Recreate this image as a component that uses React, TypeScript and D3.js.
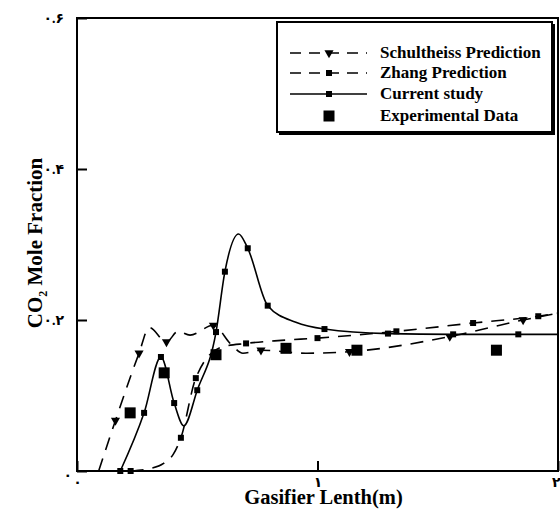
import React, { useEffect, useRef } from "react";
import * as d3 from "d3";

// Schultheiss prediction (dashed, triangles)
const schX = [0.09, 0.16, 0.258, 0.3, 0.372, 0.42, 0.47, 0.567, 0.64, 0.69, 0.765, 0.95, 1.133, 1.55, 1.855, 2.0];
const schY = [0.0, 0.067, 0.156, 0.19, 0.171, 0.185, 0.18, 0.193, 0.168, 0.156, 0.16, 0.156, 0.158, 0.178, 0.2, 0.209];
const schMark = [false, true, true, false, true, false, false, true, false, false, true, false, true, true, true, false];

// Zhang prediction (dashed, small squares)
const zhX = [0.223, 0.3, 0.36, 0.4, 0.432, 0.494, 0.6, 0.703, 0.85, 1.0, 1.328, 1.647, 1.918, 2.0];
const zhY = [0.0, 0.003, 0.01, 0.022, 0.044, 0.123, 0.164, 0.169, 0.173, 0.176, 0.185, 0.196, 0.205, 0.209];
const zhMark = [true, false, false, false, true, true, false, true, false, true, true, true, true, false];

// Current study (solid, small squares)
const curX = [0.18, 0.279, 0.349, 0.404, 0.444, 0.5, 0.578, 0.615, 0.672, 0.71, 0.793, 0.91, 1.029, 1.293, 1.564, 1.835, 2.0];
const curY = [0.0, 0.077, 0.151, 0.09, 0.06, 0.107, 0.184, 0.264, 0.314, 0.295, 0.219, 0.197, 0.188, 0.182, 0.181, 0.181, 0.181];
const curMark = [true, true, true, true, false, true, true, true, false, true, true, false, true, true, true, true, false];

// Experimental data (big squares)
const expX = [0.221, 0.3625, 0.578, 0.869, 1.164, 1.744];
const expY = [0.077, 0.13, 0.154, 0.1625, 0.16, 0.16];

const xTicks = [0, 1, 2];
const yTicks = [0, 0.2, 0.4, 0.6];
const legendLabels = ["Schultheiss Prediction", "Zhang Prediction", "Current study", "Experimental Data"];

const faDigits = "۰۱۲۳۴۵۶۷۸۹";
const toFa = (s: string) => s.replace(/[0-9]/g, d => faDigits[+d]);
const fmtY = (v: number) => (v === 0 ? "۰" : toFa(v.toFixed(1)));

const serif = "'Times New Roman', 'Liberation Serif', 'DejaVu Sans', serif";

const App = () => {
  const ref = useRef<SVGSVGElement>(null);

  useEffect(() => {
    const width = 560, height = 516;
    const svg = d3.select(ref.current);
    svg.selectAll("*").remove();
    svg.attr("width", width).attr("height", height);

    const x = d3.scaleLinear().domain([0, 2]).range([77, 558]);
    const y = d3.scaleLinear().domain([0, 0.6]).range([471, 18]);

    const line = d3.line<[number, number]>()
      .x(d => x(d[0]))
      .y(d => y(d[1]))
      .curve(d3.curveMonotoneX);

    const zip = (a: number[], b: number[]) => a.map((v, i) => [v, b[i]] as [number, number]);

    const plot = svg.append("g");

    // series lines
    plot.append("path").attr("d", line(zip(schX, schY)))
      .attr("fill", "none").attr("stroke", "#000").attr("stroke-width", 1.6)
      .attr("stroke-dasharray", "13,9");
    plot.append("path").attr("d", line(zip(zhX, zhY)))
      .attr("fill", "none").attr("stroke", "#000").attr("stroke-width", 1.6)
      .attr("stroke-dasharray", "13,9");
    plot.append("path").attr("d", line(zip(curX, curY)))
      .attr("fill", "none").attr("stroke", "#000").attr("stroke-width", 1.6);

    const tri = d3.symbol().type(d3.symbolTriangle).size(36)();

    // markers
    plot.selectAll(".sch").data(zip(schX, schY).filter((_, i) => schMark[i])).enter()
      .append("path").attr("d", tri)
      .attr("transform", d => `translate(${x(d[0])},${y(d[1])}) rotate(180)`)
      .attr("fill", "#000");
    plot.selectAll(".zh").data(zip(zhX, zhY).filter((_, i) => zhMark[i])).enter()
      .append("rect").attr("x", d => x(d[0]) - 3).attr("y", d => y(d[1]) - 3)
      .attr("width", 6).attr("height", 6).attr("fill", "#000");
    plot.selectAll(".cur").data(zip(curX, curY).filter((_, i) => curMark[i])).enter()
      .append("rect").attr("x", d => x(d[0]) - 3).attr("y", d => y(d[1]) - 3)
      .attr("width", 6).attr("height", 6).attr("fill", "#000");
    plot.selectAll(".exp").data(zip(expX, expY)).enter()
      .append("rect").attr("x", d => x(d[0]) - 5.5).attr("y", d => y(d[1]) - 5.5)
      .attr("width", 11).attr("height", 11).attr("fill", "#000");

    // frame
    plot.append("rect")
      .attr("x", x(0)).attr("y", y(0.6))
      .attr("width", x(2) - x(0)).attr("height", y(0) - y(0.6))
      .attr("fill", "none").attr("stroke", "#000").attr("stroke-width", 2);

    // axes with inward ticks
    const yAxis = svg.append("g").attr("transform", `translate(${x(0)},0)`)
      .call(d3.axisLeft(y).tickValues(yTicks).tickSizeInner(-10).tickSizeOuter(0).tickPadding(13).tickFormat(d => fmtY(+d)));
    const xAxis = svg.append("g").attr("transform", `translate(0,${y(0)})`)
      .call(d3.axisBottom(x).tickValues(xTicks).tickSizeInner(-10).tickSizeOuter(0).tickPadding(6).tickFormat(d => toFa(String(d))));
    [yAxis, xAxis].forEach(a => {
      a.select(".domain").remove();
      a.selectAll("line").attr("stroke", "#000").attr("stroke-width", 2);
      a.selectAll("text").attr("font-family", serif).attr("font-size", 14).attr("font-weight", "bold").attr("fill", "#000");
    });
    yAxis.selectAll<SVGTextElement, number>("text").filter(d => d === 0).attr("dy", "0.6em").attr("x", -5);
    xAxis.selectAll<SVGTextElement, number>("text").filter(d => d === 2).attr("text-anchor", "end").attr("x", 2);

    // axis titles
    svg.append("text")
      .attr("x", x(1) + 6).attr("y", 504)
      .attr("text-anchor", "middle")
      .attr("font-family", serif).attr("font-size", 20.5).attr("font-weight", "bold")
      .text("Gasifier Lenth(m)");
    const yt = svg.append("text")
      .attr("transform", `translate(42,243) rotate(-90)`)
      .attr("text-anchor", "middle")
      .attr("font-family", serif).attr("font-size", 21).attr("font-weight", "bold");
    yt.append("tspan").text("CO");
    yt.append("tspan").attr("font-size", 12).attr("dy", 5).text("2");
    yt.append("tspan").attr("dy", -5).text(" Mole Fraction");

    // legend
    const lg = svg.append("g");
    lg.append("rect").attr("x", 279).attr("y", 24).attr("width", 276).attr("height", 111).attr("fill", "#000");
    lg.append("rect").attr("x", 277).attr("y", 22).attr("width", 275).attr("height", 110)
      .attr("fill", "#fff").attr("stroke", "#000").attr("stroke-width", 2);
    const rows = [53, 73, 94, 116];
    const sx0 = 290, sx1 = 367, smid = 329;
    lg.append("line").attr("x1", sx0).attr("x2", sx1).attr("y1", rows[0]).attr("y2", rows[0])
      .attr("stroke", "#000").attr("stroke-width", 1.6).attr("stroke-dasharray", "11,8");
    lg.append("path").attr("d", tri).attr("transform", `translate(${smid},${rows[0]}) rotate(180)`).attr("fill", "#000");
    lg.append("line").attr("x1", sx0).attr("x2", sx1).attr("y1", rows[1]).attr("y2", rows[1])
      .attr("stroke", "#000").attr("stroke-width", 1.6).attr("stroke-dasharray", "11,8");
    lg.append("rect").attr("x", smid - 3).attr("y", rows[1] - 3).attr("width", 6).attr("height", 6).attr("fill", "#000");
    lg.append("line").attr("x1", sx0).attr("x2", sx1).attr("y1", rows[2]).attr("y2", rows[2])
      .attr("stroke", "#000").attr("stroke-width", 1.6);
    lg.append("rect").attr("x", smid - 3).attr("y", rows[2] - 3).attr("width", 6).attr("height", 6).attr("fill", "#000");
    lg.append("rect").attr("x", smid - 5.5).attr("y", rows[3] - 5.5).attr("width", 11).attr("height", 11).attr("fill", "#000");
    lg.selectAll(".lt").data(legendLabels).enter().append("text")
      .attr("x", 380).attr("y", (_, i) => rows[i] + 5)
      .attr("font-family", serif).attr("font-size", 17).attr("font-weight", "bold")
      .text(d => d);
  }, []);

  return (
    <svg ref={ref} style={{ position: "absolute", left: 0, top: 0, background: "#fff" }}></svg>
  );
};

export default App;
